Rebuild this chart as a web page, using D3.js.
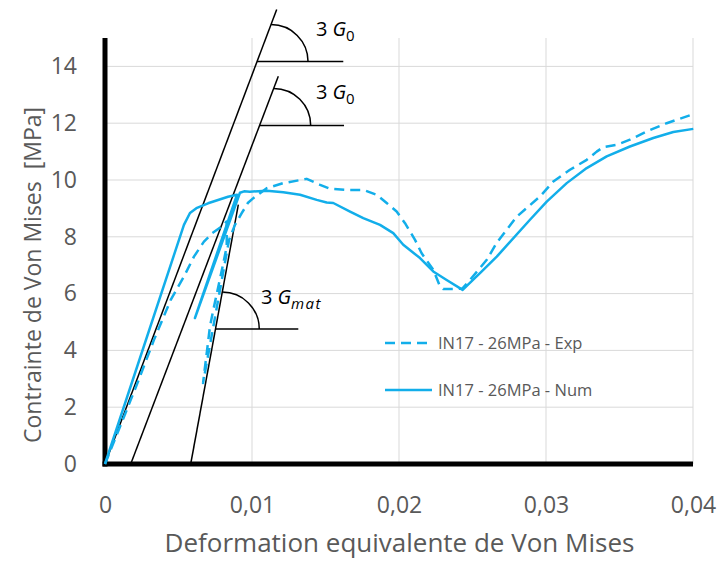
<!DOCTYPE html>
<html>
<head>
<meta charset="utf-8">
<script src="https://cdn.jsdelivr.net/npm/d3@7"></script>
<style>
  html, body { margin: 0; padding: 0; background: #fff; }
  svg { display: block; }
  text { font-family: "Open Sans", sans-serif; }
</style>
</head>
<body>
<div id="chart"></div>
<script>
// ---------- data ----------
const xTicks = [0, 0.01, 0.02, 0.03, 0.04];
const yTicks = [0, 2, 4, 6, 8, 10, 12, 14];
const xTickLabels = ["0", "0,01", "0,02", "0,03", "0,04"];

const seriesNames = ["IN17 - 26MPa - Exp", "IN17 - 26MPa - Num"];

const expStrain = [0, 0.00084, 0.00220, 0.00333, 0.00447, 0.00537, 0.00605, 0.00673, 0.00730, 0.00794, 0.00828,
  0.00828, 0.00805, 0.00771, 0.00737, 0.00714, 0.00667,
  0.00844, 0.00884, 0.00930, 0.00973, 0.01009, 0.0110, 0.01213, 0.01372, 0.01463, 0.01531, 0.01644, 0.01757,
  0.01848, 0.01916, 0.01984, 0.02041, 0.02109, 0.02154, 0.02233, 0.02279, 0.02301, 0.02429, 0.02483, 0.02597,
  0.02665, 0.02801, 0.02959, 0.03050, 0.03163, 0.03277, 0.03345, 0.03390, 0.03481, 0.03571, 0.03685, 0.03821, 0.04002];
const expStress = [0, 1.08, 2.84, 4.37, 5.78, 6.60, 7.30, 7.83, 8.13, 8.36, 8.54,
  7.66, 7.07, 6.25, 5.43, 4.84, 2.85,
  7.89, 8.42, 8.83, 9.20, 9.36, 9.71, 9.89, 10.04, 9.83, 9.69, 9.65, 9.65,
  9.48, 9.19, 8.89, 8.48, 7.89, 7.42, 6.84, 6.25, 6.16, 6.17, 6.48, 7.19,
  7.79, 8.71, 9.42, 9.95, 10.36, 10.71, 11.00, 11.16, 11.24, 11.42, 11.71, 12.00, 12.32];

const numStrain = [0, 0.00537, 0.00578, 0.00626, 0.00701, 0.00837, 0.00898, 0.00612, 0.00918, 0.00946, 0.00986,
  0.0110, 0.01213, 0.01327, 0.0144, 0.01508, 0.01553, 0.01667, 0.01757, 0.01871, 0.01961, 0.02029, 0.02143,
  0.02233, 0.02324, 0.02433, 0.02551, 0.02665, 0.02891, 0.03005, 0.03141, 0.03277, 0.03413, 0.03571, 0.03730,
  0.03866, 0.04002];
const numStress = [0, 8.42, 8.84, 9.02, 9.18, 9.41, 9.48, 5.14, 9.55, 9.60, 9.59,
  9.62, 9.57, 9.48, 9.30, 9.21, 9.19, 8.89, 8.66, 8.42, 8.13, 7.72, 7.25,
  6.78, 6.48, 6.13, 6.72, 7.30, 8.60, 9.24, 9.89, 10.42, 10.83, 11.18, 11.48,
  11.69, 11.80];

// tangent (modulus) lines: start and end in data units
const tangentStartX = [0, 0.00175, 0.00583];
const tangentStartY = [0, 0, 0];
const tangentEndX = [0.01168, 0.01179, 0.00907];
const tangentEndY = [16.0, 13.65, 9.13];
// horizontal reference line of each angle mark
const angleLineY = [14.17, 11.92, 4.75];
const angleLineEndX = [0.01621, 0.01626, 0.01315];
// angle labels
const angleLabelX = [0.01435, 0.01435, 0.01061];
const angleLabelY = [15.06, 12.85, 5.64];
const angleLabelSub = ["0", "0", "mat"];

// ---------- layout ----------
const W = 721, H = 561;
const blue = "#12AEEA";
const grey = "#595959";

const svg = d3.select("#chart").append("svg").attr("width", W).attr("height", H);

const x = d3.scaleLinear().domain([0, 0.04]).range([105, 693]);
const y = d3.scaleLinear().domain([0, 15]).range([464, 38]);

// gridlines
svg.append("g").selectAll("line.h").data(yTicks.filter(d => d > 0)).join("line")
  .attr("x1", x(0)).attr("x2", x(0.04))
  .attr("y1", d => y(d)).attr("y2", d => y(d))
  .attr("stroke", "#D9D9D9").attr("stroke-width", 1);
svg.append("g").selectAll("line.v").data(xTicks.filter(d => d > 0)).join("line")
  .attr("x1", d => x(d)).attr("x2", d => x(d))
  .attr("y1", y(15)).attr("y2", y(0))
  .attr("stroke", "#D9D9D9").attr("stroke-width", 1);

// axes
const xAxis = d3.axisBottom(x).tickValues(xTicks).tickSize(0).tickPadding(33)
  .tickFormat((d, i) => xTickLabels[i]);
const gx = svg.append("g").attr("transform", `translate(0,${y(0)})`).call(xAxis);
gx.select(".domain").remove();
gx.selectAll("text").attr("font-family", "'Open Sans', sans-serif").attr("font-size", 23).attr("fill", grey);

const yAxis = d3.axisLeft(y).tickValues(yTicks).tickSize(0).tickPadding(28);
const gy = svg.append("g").attr("transform", `translate(${x(0)},0)`).call(yAxis);
gy.select(".domain").remove();
gy.selectAll("text").attr("font-family", "'Open Sans', sans-serif").attr("font-size", 23).attr("fill", grey);

// thick axis lines
svg.append("line").attr("x1", x(0)).attr("x2", x(0)).attr("y1", y(15)).attr("y2", y(0) + 2.5)
  .attr("stroke", "#000").attr("stroke-width", 5);
svg.append("line").attr("x1", x(0) - 2.5).attr("x2", x(0.04)).attr("y1", y(0)).attr("y2", y(0))
  .attr("stroke", "#000").attr("stroke-width", 5);

// axis titles
svg.append("text").attr("x", 399.5).attr("y", 552)
  .attr("text-anchor", "middle").attr("font-size", 26).attr("fill", grey)
  .text("Deformation equivalente de Von Mises");
const yt = svg.append("text").attr("transform", `translate(41,443) rotate(-90)`)
  .attr("text-anchor", "start").attr("font-size", 23).attr("fill", grey);
yt.append("tspan").text("Contrainte de Von Mises");
yt.append("tspan").attr("dx", 12).text("[MPa]");

// tangent lines and angle marks
const R = 37;
tangentStartX.forEach((x0, i) => {
  const y0 = tangentStartY[i], x1 = tangentEndX[i], y1 = tangentEndY[i];
  const lineXAt = v => x0 + (v - y0) * (x1 - x0) / (y1 - y0);
  svg.append("line")
    .attr("x1", x(x0)).attr("y1", y(y0)).attr("x2", x(x1)).attr("y2", y(y1))
    .attr("stroke", "#000").attr("stroke-width", 1.5);
  const hy = angleLineY[i];
  svg.append("line")
    .attr("x1", x(lineXAt(hy))).attr("x2", x(angleLineEndX[i]))
    .attr("y1", y(hy)).attr("y2", y(hy))
    .attr("stroke", "#000").attr("stroke-width", 1.5);
  const cy = y(hy);
  const cx = x(lineXAt(y.invert(cy - R)));
  const p = d3.path();
  p.arc(cx, cy, R, -Math.PI / 2, 0);
  svg.append("path").attr("d", p.toString()).attr("fill", "none")
    .attr("stroke", "#000").attr("stroke-width", 1.5);

  const t = svg.append("text").attr("x", x(angleLabelX[i])).attr("y", y(angleLabelY[i]))
    .attr("font-family", "'Liberation Serif', 'DejaVu Serif', serif").attr("font-size", 20).attr("fill", "#000");
  t.append("tspan").text("3");
  t.append("tspan").attr("dx", 5).attr("font-style", "italic").text("G");
  t.append("tspan").attr("dy", 5).attr("font-size", 15)
    .attr("font-style", angleLabelSub[i] === "0" ? "normal" : "italic")
    .attr("letter-spacing", angleLabelSub[i] === "0" ? 0 : 1.5)
    .text(angleLabelSub[i]);
});

// curves
const line = d3.line().x(d => x(d[0])).y(d => y(d[1]));
const expData = expStrain.map((v, i) => [v, expStress[i]]);
const numData = numStrain.map((v, i) => [v, numStress[i]]);

svg.append("path").datum(expData).attr("d", line)
  .attr("fill", "none").attr("stroke", blue).attr("stroke-width", 2.5)
  .attr("stroke-dasharray", "10,6").attr("stroke-linejoin", "round");
svg.append("path").datum(numData).attr("d", line)
  .attr("fill", "none").attr("stroke", blue).attr("stroke-width", 2.5)
  .attr("stroke-linejoin", "round");

// legend
const legend = svg.append("g");
const legendY = [343, 390];
seriesNames.forEach((name, i) => {
  legend.append("line").attr("x1", 385).attr("x2", 432).attr("y1", legendY[i]).attr("y2", legendY[i])
    .attr("stroke", blue).attr("stroke-width", 2.5)
    .attr("stroke-dasharray", i === 0 ? "10,6" : null);
  legend.append("text").attr("x", 438).attr("y", legendY[i] + 6)
    .attr("font-size", 16.5).attr("fill", grey).text(name);
});
</script>
</body>
</html>
